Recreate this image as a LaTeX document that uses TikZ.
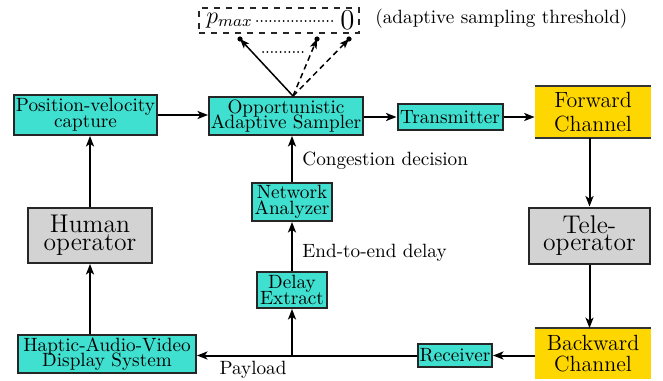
\documentclass[tikz,border=0pt]{standalone}
\usetikzlibrary{arrows.meta}
\definecolor{turq}{RGB}{64,224,208}
\definecolor{gry}{RGB}{211,211,211}
\definecolor{gld}{RGB}{255,215,0}
\setlength{\lineskiplimit}{-20pt}
\setlength{\lineskip}{0pt}
\begin{document}
\begin{tikzpicture}[x=0.5pt,y=-0.5pt,
  tbox/.style={draw=black!85, line width=1pt, fill=turq, align=center, inner sep=0pt,
    font={\fontsize{9.6}{7.9}\selectfont}},
  gbox/.style={draw=black!85, line width=1pt, fill=gry, align=center, inner sep=0pt,
    font={\fontsize{12.8}{8.8}\selectfont}},
  ybox/.style={fill=gld, align=center, inner sep=0pt},
  chline/.style={line width=1pt, black!80},
  conn/.style={line width=1pt, -{Stealth[length=5.2pt,width=4pt,inset=1.3pt]}},
  thin/.style={line width=0.75pt, -{Stealth[length=4.8pt,width=3.6pt,inset=1.2pt]}},
  lbl/.style={font={\fontsize{9.6}{11}\selectfont}, inner sep=0pt},
  dot/.style={circle, fill=black, inner sep=0pt, minimum size=2.6pt}]
\useasboundingbox (0,0) rectangle (663,380);

% threshold box
\node[draw=black!85, dashed, line width=0.6pt, minimum width=80pt, minimum height=12.5pt, inner sep=0pt] (thr) at (279,20.5) {};
\node[font=\large, inner sep=0pt, anchor=west] (pm) at (206,20.5) {$p_{max}$};
\node[font={\fontsize{13.5}{14}\selectfont}, inner sep=0pt] (z) at (347.5,20.5) {$0$};
\draw[line width=1pt, line cap=round, dash pattern=on 0pt off 2.2pt] ([xshift=2pt]pm.east |- 0,21) -- ([xshift=-2pt]z.west |- 0,21);
\node[lbl, anchor=west] (ast) at (375,19) {(adaptive sampling threshold)};

% boxes
\node[tbox, minimum width=71.5pt, minimum height=20pt] (pv) at (85.5,115) {Position-velocity\\capture};
\node[tbox, minimum width=77pt, minimum height=19pt] (s) at (286,116) {Opportunistic\\Adaptive Sampler};
\node[tbox, minimum width=52.5pt, minimum height=13pt] (tx) at (450,117) {Transmitter};
\node[ybox, minimum width=58pt, minimum height=26pt, font={\fontsize{11}{12}\selectfont}] (fc) at (593,112) {Forward\\Channel};
\node[tbox, minimum width=40pt, minimum height=19pt] (na) at (292,202) {Network\\Analyzer};
\node[tbox, minimum width=35pt, minimum height=18pt] (de) at (292,290) {Delay\\Extract};
\node[gbox, minimum width=62pt, minimum height=27.5pt] (ho) at (90,235.5) {Human\\operator};
\node[gbox, minimum width=60.5pt, minimum height=28pt] (to) at (589.5,235.5) {Tele-\\operator};
\node[tbox, minimum width=89pt, minimum height=19pt] (hav) at (107,354) {Haptic-Audio-Video\\Display System};
\node[tbox, minimum width=37pt, minimum height=11.5pt] (rx) at (455,355.5) {Receiver};
\node[ybox, minimum width=58pt, minimum height=25pt, font={\fontsize{11}{10.5}\selectfont}] (bc) at (593,353.5) {Backward\\Channel};

\draw[chline] (fc.north west) -- (fc.north east);
\draw[chline] (fc.south west) -- (fc.south east);
\draw[chline] (bc.north west) -- (bc.north east);

% labels
\node[lbl, anchor=west] (cd) at (302,161) {Congestion decision};
\node[lbl, anchor=west] (ed) at (302,253) {End-to-end delay};
\node[lbl] (pl) at (253,370) {Payload};

% sampler to threshold
\coordinate (src) at ([xshift=3.5pt]s.north);
\node[dot] (e1) at (240,39) {};
\node[dot] (e2) at (317,39) {};
\node[dot] (e3) at (349,39) {};
\draw[thin] (src) -- (e1.center);
\draw[thin, dash pattern=on 2.8pt off 2pt] (src) -- (e2.center);
\draw[thin, dash pattern=on 2.8pt off 2pt] (src) -- (e3.center);
\coordinate (d1) at (263,52);
\coordinate (d2) at (303,52);
\draw[line width=1pt, line cap=round, dash pattern=on 0pt off 2.2pt] (d1) -- (d2);

% connectors
\draw[conn] (pv.east) -- (pv.east -| s.west);
\draw[conn] (s.east |- tx.west) -- (tx.west);
\draw[conn] (tx.east) -- (tx.east -| fc.west);
\draw[conn] (fc.south -| to.north) -- (to.north);
\draw[conn] (to.south) -- (to.south |- bc.north);
\draw[conn] (bc.west |- rx.east) -- (rx.east);
\draw[conn] (rx.west) -- (rx.west -| hav.east);
\coordinate (j) at (de.south |- rx.west);
\draw[conn] (j) -- (de.south);
\draw[conn] (de.north) -- (na.south);
\draw[conn] (na.north) -- (na.north |- s.south);
\draw[conn] (ho.south |- hav.north) -- (ho.south);
\draw[conn] (ho.north) -- (ho.north |- pv.south);
\end{tikzpicture}
\end{document}
